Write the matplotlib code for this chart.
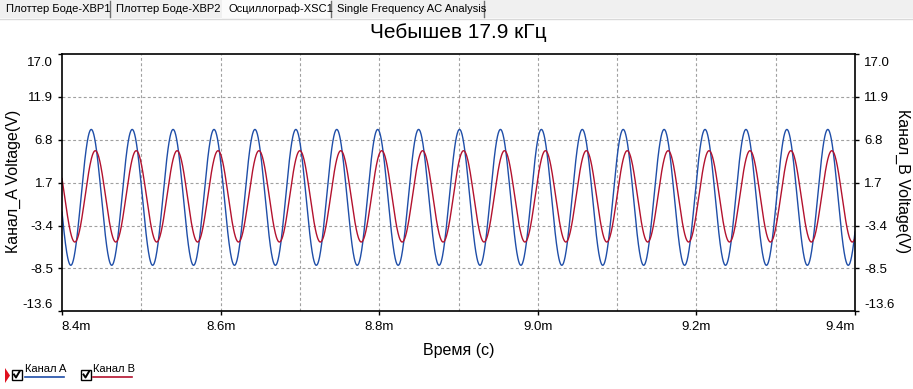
import numpy as np
import matplotlib
matplotlib.use("Agg")
import matplotlib.pyplot as plt
from matplotlib.lines import Line2D
from matplotlib.patches import Rectangle, Polygon
from matplotlib.transforms import ScaledTranslation

plt.rcParams['font.family'] = ['Liberation Sans', 'DejaVu Sans']

W, H = 913, 389

# --- data ---
tabs = ["Плоттер Боде-XBP1", "Плоттер Боде-XBP2", "Осциллограф-XSC1", "Single Frequency AC Analysis"]
title = "Чебышев 17.9 кГц"
channels = ["Канал A", "Канал B"]
channel_colors = ["#1f4ea8", "#b3122e"]
amplitude_v = [8.08, 5.43]          # peak amplitude of each trace
offset_v = [-0.05, 0.07]            # dc level
peak_time_ms = [8.4369, 8.4420]     # time of first crest in the window
freq_khz = [19.38, 19.38]           # crest spacing measured on screen
x_range_ms = [8.4, 9.4]
x_ticks_ms = [8.4, 8.6, 8.8, 9.0, 9.2, 9.4]
x_tick_labels = ["8.4m", "8.6m", "8.8m", "9.0m", "9.2m", "9.4m"]
x_grid_ms = [8.5, 8.6, 8.7, 8.8, 8.9, 9.0, 9.1, 9.2, 9.3]
y_ticks = [17.0, 11.9, 6.8, 1.7, -3.4, -8.5, -13.6]
y_tick_labels = ["17.0", "11.9", "6.8", "1.7", "-3.4", "-8.5", "-13.6"]


def fx(px):
    return px / W


def fy(py):
    return 1 - py / H


fig = plt.figure(figsize=(W / 100, H / 100), dpi=100)
fig.patch.set_facecolor("white")

# tab strip
fig.patches.append(Rectangle((0, fy(18)), 1, 18 / H, transform=fig.transFigure,
                             facecolor="#f0f0f0", edgecolor="none"))
fig.patches.append(Rectangle((fx(222), fy(19)), 109 / W, 19 / H, transform=fig.transFigure,
                             facecolor="#fbfbfb", edgecolor="none"))
fig.lines.append(Line2D([0, 1], [fy(18.5), fy(18.5)], transform=fig.transFigure,
                        color="#d9d9d9", lw=1))
tab_x = [6, 116, 228, 337]
for x, t in zip(tab_x, tabs):
    fig.text(fx(x), fy(9), t, fontsize=8, va="center", ha="left", color="black")
for sx in [110, 331, 484]:
    fig.lines.append(Line2D([fx(sx), fx(sx)], [fy(1), fy(17)], transform=fig.transFigure,
                            color="#707070", lw=1))

ax = fig.add_axes([fx(62), fy(311.3), (855 - 62) / W, (311.3 - 54) / H])

t = np.linspace(x_range_ms[0], x_range_ms[1], 3000)
for name, col, a, off, tp, f in zip(channels, channel_colors, amplitude_v, offset_v,
                                     peak_time_ms, freq_khz):
    v = off + a * np.cos(2 * np.pi * f * (t - tp))
    ax.plot(t, v, color=col, lw=1.0, label=name)

ax.set_xlim(x_range_ms)
ax.set_ylim(y_ticks[-1], y_ticks[0])

grid_kw = dict(color="#a0a0a0", lw=0.8, dashes=(2.6, 2.2), zorder=0)
for g in x_grid_ms:
    ax.axvline(g, **grid_kw)
for g in y_ticks[1:-1]:
    ax.axhline(g, **grid_kw)

ax.set_xticks(x_ticks_ms)
ax.set_xticklabels(x_tick_labels, fontsize=9.5)
ax.set_yticks(y_ticks)
ax.set_yticklabels(y_tick_labels, fontsize=9.5)
ax.tick_params(axis="x", direction="out", length=3, width=1, pad=4)
ax.tick_params(axis="y", direction="out", length=3, width=1, pad=3.5,
               left=True, right=True, labelleft=True, labelright=True)
for s in ax.spines.values():
    s.set_linewidth(1.2)

# Multisim keeps the edge labels inside the plot box
shift = 8 / 100
xl = ax.get_xticklabels()
xl[0].set_horizontalalignment("left")
xl[-1].set_horizontalalignment("right")
xl[0].set_transform(xl[0].get_transform() + ScaledTranslation(-1 / 100, 0, fig.dpi_scale_trans))
for tick in ax.yaxis.get_major_ticks():
    val = tick.get_loc()
    if val == y_ticks[0]:
        d = -shift
    elif val == y_ticks[-1]:
        d = shift
    else:
        continue
    for lab in (tick.label1, tick.label2):
        lab.set_transform(lab.get_transform() + ScaledTranslation(0, d, fig.dpi_scale_trans))

fig.text(fx(458.5), fy(33), title, fontsize=15, ha="center", va="center")
fig.text(fx(458.5), fy(351), "Время (с)", fontsize=11.5, ha="center", va="center")
fig.text(fx(13), fy(181), "Канал_A Voltage(V)", fontsize=11.5, rotation=90,
         ha="center", va="center")
fig.text(fx(903), fy(181), "Канал_B Voltage(V)", fontsize=11.5, rotation=270,
         ha="center", va="center")

# legend strip at the bottom
fig.patches.append(Polygon([[fx(5), fy(368)], [fx(5), fy(383)], [fx(10), fy(375.5)]],
                           closed=True, transform=fig.transFigure, facecolor="#e0101e",
                           edgecolor="none"))
box_x = [11.5, 81]
text_x = [25, 93]
for bx, tx, name, col in zip(box_x, text_x, channels, channel_colors):
    fig.patches.append(Rectangle((fx(bx), fy(380)), 10 / W, 10 / H, transform=fig.transFigure,
                                 facecolor="white", edgecolor="black", lw=1))
    fig.lines.append(Line2D([fx(bx + 2.5), fx(bx + 4.5), fx(bx + 8)],
                            [fy(374.5), fy(377.5), fy(371.5)],
                            transform=fig.transFigure, color="black", lw=1.4))
    fig.text(fx(tx), fy(368.5), name, fontsize=8, ha="left", va="center")
    fig.lines.append(Line2D([fx(tx), fx(tx + 39)], [fy(377), fy(377)],
                            transform=fig.transFigure, color=col, lw=1.2))

fig.savefig("out.png", dpi=100)
